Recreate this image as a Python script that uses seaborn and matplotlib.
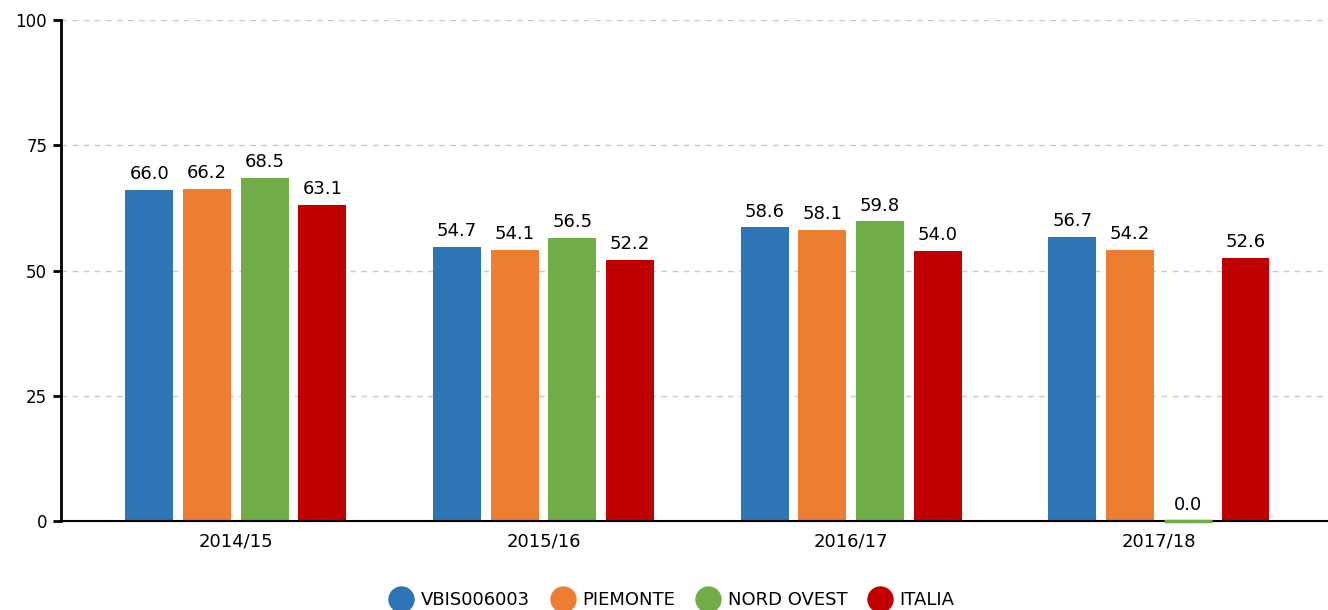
import pandas as pd
import numpy as np
import seaborn as sns
import matplotlib.pyplot as plt
from matplotlib.lines import Line2D

# data
years = ['2014/15', '2015/16', '2016/17', '2017/18']
series = ['VBIS006003', 'PIEMONTE', 'NORD OVEST', 'ITALIA']
vbis = [66.0, 54.7, 58.6, 56.7]
piemonte = [66.2, 54.1, 58.1, 54.2]
nord_ovest = [68.5, 56.5, 59.8, 0.0]
italia = [63.1, 52.2, 54.0, 52.6]
colors = ['#2E75B6', '#ED7D31', '#70AD47', '#C00000']

df = pd.DataFrame({
    'Anno': years * 4,
    'Serie': np.repeat(series, 4),
    'Valore': vbis + piemonte + nord_ovest + italia,
})

sns.set_style('white')
plt.rcParams['font.family'] = ['DejaVu Sans']
plt.rcParams['text.color'] = 'black'
plt.rcParams['xtick.color'] = 'black'
plt.rcParams['ytick.color'] = 'black'

fig = plt.figure(figsize=(13.28, 6.1), dpi=100)
ax = fig.add_axes([0.046, 0.146, 0.953, 0.821])

sns.barplot(data=df, x='Anno', y='Valore', hue='Serie', order=years,
            hue_order=series, palette=colors, width=0.75, gap=0.17,
            linewidth=0, saturation=1, ax=ax, legend=False)

# zero-height bar shows as a thin line like in the reference
for cont, col in zip(ax.containers, colors):
    for p in cont:
        if p.get_height() == 0:
            p.set_edgecolor(col)
            p.set_linewidth(2.5)
            p.set_zorder(5)
            p.set_clip_on(False)
    ax.bar_label(cont, fmt='%.1f', padding=5, fontsize=13, color='black')

ax.set_ylim(0, 100)
ax.set_xlim(-0.568, 3.545)
ax.set_yticks([0, 25, 50, 75, 100])
ax.yaxis.grid(True, linestyle=(0, (4, 4)), color='#c8c8c8', linewidth=1)
ax.set_axisbelow(True)
ax.set_xlabel('')
ax.set_ylabel('')

for s in ['top', 'right']:
    ax.spines[s].set_visible(False)
ax.spines['left'].set_linewidth(2)
ax.spines['bottom'].set_linewidth(1.5)
ax.spines['left'].set_color('black')
ax.spines['bottom'].set_color('black')
ax.tick_params(axis='y', length=6, width=2, labelsize=12, pad=4, left=True)
ax.tick_params(axis='x', length=0, labelsize=13, pad=8)

handles = [Line2D([0], [0], marker='o', color='w', markerfacecolor=c,
                  markersize=20) for c in colors]
fig.legend(handles, series, loc='lower center', ncol=4, frameon=False,
           fontsize=13, handletextpad=0.3, columnspacing=1.0,
           bbox_to_anchor=(0.505, -0.025), handlelength=1.6)

fig.savefig('out.png', dpi=100)
